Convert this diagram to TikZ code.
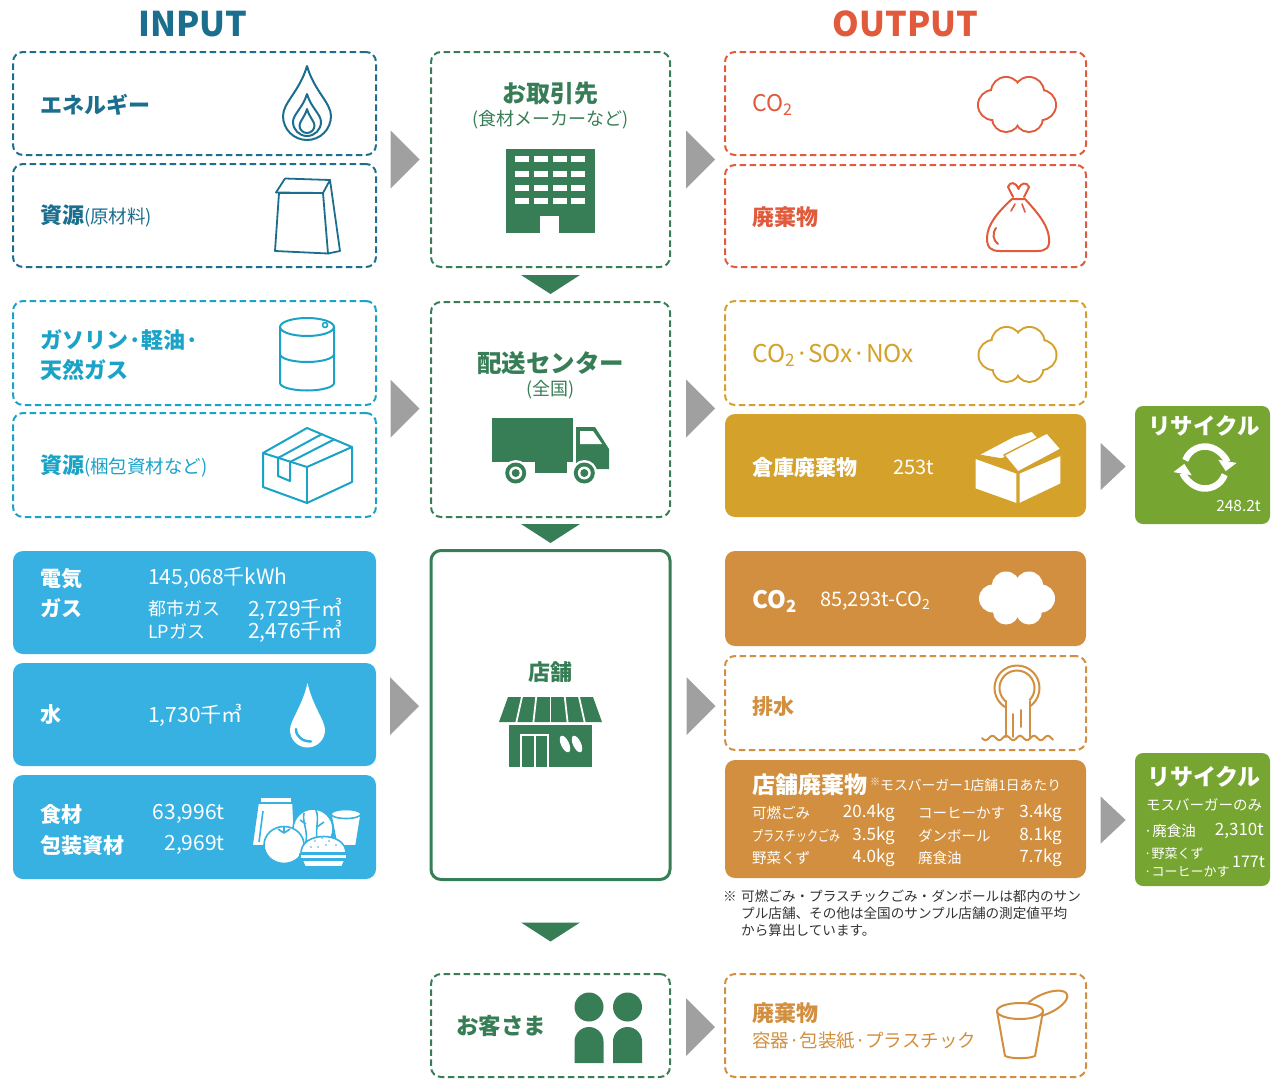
\documentclass[tikz,border=0pt]{standalone}
\usepackage{fontspec}
\setmainfont{Noto Sans CJK JP}
\usetikzlibrary{calc,arrows.meta}

\definecolor{cTealD}{HTML}{1C6E8E}
\definecolor{cTealL}{HTML}{1AA3C7}
\definecolor{cSky}{HTML}{36B1E1}
\definecolor{cGreen}{HTML}{377E56}
\definecolor{cRed}{HTML}{E15A3B}
\definecolor{cGold}{HTML}{D4A12B}
\definecolor{cOrange}{HTML}{D18F3F}
\definecolor{cLeaf}{HTML}{76A532}
\definecolor{cGray}{HTML}{A0A0A0}
\definecolor{cNote}{HTML}{333333}

\newcommand\fsz[1]{\fontsize{#1}{#1}\selectfont}
\newcommand\fsl[2]{\fontsize{#1}{#2}\selectfont}

% teardrop: centre x, centre y of the round bottom, radius, tip y, path options
\newcommand\teardrop[5]{%
  \path[#5] (#1,#4) .. controls ({#1-0.3*#3},{#4+0.5*(#2-#4)}) and ({#1-#3},{#2-0.55*#3}) .. ({#1-#3},#2)
    arc[start angle=180, end angle=0, radius=#3]
    .. controls ({#1+#3},{#2-0.55*#3}) and ({#1+0.3*#3},{#4+0.5*(#2-#4)}) .. (#1,#4) -- cycle;}

% cloud made of overlapping circles
\newcommand\cloudshape[3]{%
  \foreach \dx/\dy/\rr in {-24/0/14,24/0/14,-11/-13/14,12/-13/14,-11/13/13,12/13/13,0/0/18}{%
    \path[#3] ({#1+\dx},{#2+\dy}) circle[radius=\rr];}}

% grey arrow pointing right: centre, half height, half width
\newcommand\rtri[3]{\fill[cGray] (#1) ++({-#3},{-#2}) -- ++({2*#3},{#2}) -- ++({-2*#3},{#2}) -- cycle;}
% green arrow pointing down
\newcommand\dtri[1]{\fill[cGreen] (#1) ++(-29.5,-9.5) -- ++(59,0) -- ++(-29.5,19) -- cycle;}

\tikzset{
  dbox/.style={rectangle, draw=#1, line width=2pt, dash pattern=on 6.5pt off 3.5pt, rounded corners=10pt, inner sep=0pt},
  sbox/.style={rectangle, fill=#1, rounded corners=10pt, inner sep=0pt},
  wide/.style={minimum width=363pt},
  mid/.style={minimum width=239pt},
  outw/.style={minimum width=361pt},
  lbl/.style={anchor=west, inner sep=0pt},
  lble/.style={anchor=east, inner sep=0pt},
  ctr/.style={inner sep=0pt},
  icon/.style={line width=#1, line join=round, line cap=round},
}

\begin{document}
\begin{tikzpicture}[x=1pt,y=-1pt]
\useasboundingbox (0,0) rectangle (1271,1079);

% ---------- headings ----------
\node[ctr, text=cTealD, font=\fsz{34}\bfseries] (inTitle) at (193,24) {INPUT};
\node[ctr, text=cRed, font=\fsz{34}\bfseries] (outTitle) at (905.5,24) {OUTPUT};

% ---------- input column ----------
\node[dbox=cTealD, wide, minimum height=103pt] (energy) at (194.5,103.5) {};
\node[dbox=cTealD, wide, minimum height=103pt] (rawmat) at (194.5,215.5) {};
\node[dbox=cTealL, wide, minimum height=104pt] (fuel) at (194.5,353) {};
\node[dbox=cTealL, wide, minimum height=104pt] (packmat) at (194.5,465) {};
\node[sbox=cSky, wide, minimum height=103pt] (power) at (194.5,602.5) {};
\node[sbox=cSky, wide, minimum height=103pt] (water) at (194.5,714.5) {};
\node[sbox=cSky, wide, minimum height=104pt] (food) at (194.5,827) {};

% ---------- process column ----------
\node[dbox=cGreen, mid, minimum height=215pt] (partner) at (550.5,159.5) {};
\node[dbox=cGreen, mid, minimum height=215pt] (dist) at (550.5,409.5) {};
\node[rectangle, draw=cGreen, line width=3pt, rounded corners=10pt, mid, minimum height=329pt, inner sep=0pt] (store) at (550.5,715) {};
\node[dbox=cGreen, mid, minimum height=103pt] (cust) at (550.5,1025.5) {};

% ---------- output column ----------
\node[dbox=cRed, outw, minimum height=103pt] (co2a) at (905.5,103.5) {};
\node[dbox=cRed, outw, minimum height=102pt] (wastea) at (905.5,216) {};
\node[dbox=cGold, outw, minimum height=104pt] (gasb) at (905.5,353) {};
\node[sbox=cGold, outw, minimum height=103pt] (whwaste) at (905.5,465.5) {};
\node[sbox=cOrange, outw, minimum height=95pt] (co2c) at (905.5,598.5) {};
\node[dbox=cOrange, outw, minimum height=94pt] (drain) at (905.5,703) {};
\node[sbox=cOrange, outw, minimum height=118pt] (stwaste) at (905.5,819) {};
\node[dbox=cOrange, outw, minimum height=103pt] (cwaste) at (905.5,1025.5) {};

% ---------- recycling ----------
\node[sbox=cLeaf, rounded corners=8pt, minimum width=135pt, minimum height=118pt] (rec1) at (1202.5,465) {};
\node[sbox=cLeaf, rounded corners=8pt, minimum width=135pt, minimum height=133pt] (rec2) at (1202.5,819.5) {};

% ---------- flow arrows ----------
\coordinate (g1) at ($(partner.west)+(-25,0)$);
\coordinate (g2) at ($(dist.west)+(-25,-1)$);
\coordinate (g3) at ($(store.west)+(-25,-9)$);
\coordinate (h1) at ($(partner.east)+(29.5,0)$);
\coordinate (h2) at ($(dist.east)+(29.5,-1)$);
\coordinate (h3) at ($(store.east)+(29.5,-9)$);
\coordinate (h4) at ($(cust.east)+(29.5,1.5)$);
\coordinate (r1) at ($(whwaste.east)+(27,1)$);
\coordinate (r2) at ($(stwaste.east)+(27,1)$);
\rtri{g1}{29}{14.5} \rtri{g2}{29}{14.5} \rtri{g3}{29}{14.5}
\rtri{h1}{29}{14.5} \rtri{h2}{29}{14.5} \rtri{h3}{29}{14.5} \rtri{h4}{29}{14.5}
\rtri{r1}{23.5}{12.5} \rtri{r2}{23.5}{12.5}
\coordinate (d1) at ($(partner.south)!0.5!(dist.north)$);
\coordinate (d2) at ($(dist.south)!0.5!(store.north)$);
\coordinate (d3) at ($(store.south)!0.5!(cust.north)+(0,5)$);
\dtri{d1} \dtri{d2} \dtri{d3}

% ---------- input texts ----------
\node[lbl, text=cTealD, font=\fsz{22}\bfseries] (tEnergy) at (40,105) {エネルギー};
\node[lbl, text=cTealD] (tRaw) at (40,216) {{\fsz{22}\bfseries 資源}{\fsz{18.5}(原材料)}};
\node[lbl, text=cTealL, font=\fsl{22}{30}\bfseries, align=left] (tFuel) at (40,355) {ガソリン·軽油·\\天然ガス};
\node[lbl, text=cTealL] (tPack) at (40,466) {{\fsz{22}\bfseries 資源}{\fsz{18.5}(梱包資材など)}};

\node[lbl, text=white, font=\fsl{21}{30}\bfseries, align=left] (tPow) at (40,593) {電気\\ガス};
\node[lbl, text=white, font=\fsz{21}] (vPow) at (148,578) {145,068千kWh};
\node[lbl, text=white, font=\fsz{18}] (tCity) at (148,609) {都市ガス};
\node[lbl, text=white, font=\fsz{21}] (vCity) at (248,609) {2,729千㎥};
\node[lbl, text=white, font=\fsz{18}] (tLP) at (148,631) {LPガス};
\node[lbl, text=white, font=\fsz{21}] (vLP) at (248,631) {2,476千㎥};
\node[lbl, text=white, font=\fsz{21}\bfseries] (tWater) at (40,715) {水};
\node[lbl, text=white, font=\fsz{21}] (vWater) at (148,715) {1,730千㎥};
\node[lbl, text=white, font=\fsz{21}\bfseries] (tFood) at (40,814) {食材};
\node[lble, text=white, font=\fsz{21}] (vFood) at (225,814) {63,996t};
\node[lbl, text=white, font=\fsz{21}\bfseries] (tPackM) at (40,845) {包装資材};
\node[lble, text=white, font=\fsz{21}] (vPackM) at (225,845) {2,969t};

% ---------- process texts ----------
\node[ctr, text=cGreen, font=\fsz{24}\bfseries] (tPartner) at (550.5,93) {お取引先};
\node[ctr, text=cGreen, font=\fsz{18}] (tPartner2) at (550.5,120) {(食材メーカーなど)};
\node[ctr, text=cGreen, font=\fsz{24.5}\bfseries] (tDist) at (550.5,363) {配送センター};
\node[ctr, text=cGreen, font=\fsz{18}] (tDist2) at (550.5,390) {(全国)};
\node[ctr, text=cGreen, font=\fsz{22}\bfseries] (tStore) at (550.5,672) {店舗};
\node[lbl, text=cGreen, font=\fsz{22.5}\bfseries] (tCust) at (456,1026) {お客さま};

% ---------- output texts ----------
\node[lbl, text=cRed, font=\fsz{23}] (tCO2a) at (752,105) {CO\textsubscript{2}};
\node[lbl, text=cRed, font=\fsz{22}\bfseries] (tWasteA) at (752,217) {廃棄物};
\node[lbl, text=cGold, font=\fsz{24.5}] (tGas) at (752,355) {CO\textsubscript{2}·SOx·NOx};
\node[lbl, text=white, font=\fsz{21}\bfseries] (tWh) at (752,467) {倉庫廃棄物};
\node[lbl, text=white, font=\fsz{20}] (vWh) at (893,467) {253t};
\node[lbl, text=white, font=\fsz{24}\bfseries] (tCO2c) at (752,601) {CO\textsubscript{2}};
\node[lbl, text=white, font=\fsz{20}] (vCO2c) at (820,601) {85,293t-CO\textsubscript{2}};
\node[lbl, text=cOrange, font=\fsz{21}\bfseries] (tDrain) at (752,707) {排水};
\node[lbl, text=white, font=\fsz{23}\bfseries] (tSt) at (752,785) {店舗廃棄物};
\node[lbl, text=white, font=\fsz{13.8}] (tSt2) at (870,785) {\raisebox{0.35em}{\fsz{10}※}モスバーガー1店舗1日あたり};

\node[lbl, text=white, font=\fsz{14.5}] (a1) at (752,813) {可燃ごみ};
\node[lble, text=white, font=\fsz{17}] (a1v) at (895,813) {20.4kg};
\node[lbl, text=white, font=\fsz{14.5}] (a2) at (752,836) {\scalebox{0.76}[1]{プラスチックごみ}};
\node[lble, text=white, font=\fsz{17}] (a2v) at (895,836) {3.5kg};
\node[lbl, text=white, font=\fsz{14.5}] (a3) at (752,858) {野菜くず};
\node[lble, text=white, font=\fsz{17}] (a3v) at (895,858) {4.0kg};
\node[lbl, text=white, font=\fsz{14.5}] (b1) at (918,813) {コーヒーかす};
\node[lble, text=white, font=\fsz{17}] (b1v) at (1062,813) {3.4kg};
\node[lbl, text=white, font=\fsz{14.5}] (b2) at (918,836) {ダンボール};
\node[lble, text=white, font=\fsz{17}] (b2v) at (1062,836) {8.1kg};
\node[lbl, text=white, font=\fsz{14.5}] (b3) at (918,858) {廃食油};
\node[lble, text=white, font=\fsz{17}] (b3v) at (1062,858) {7.7kg};

\node[lbl, text=cNote, font=\fsz{13.6}] (nMark) at (723,896) {※};
\node[lbl, text=cNote, font=\fsz{13.6}] (n1) at (741,896) {可燃ごみ・プラスチックごみ・ダンボールは都内のサン};
\node[lbl, text=cNote, font=\fsz{13.6}] (n2) at (741,913) {プル店舗、その他は全国のサンプル店舗の測定値平均};
\node[lbl, text=cNote, font=\fsz{13.6}] (n3) at (741,930) {から算出しています。};

\node[lbl, text=cOrange, font=\fsz{22}\bfseries] (tCw) at (752,1013) {廃棄物};
\node[lbl, text=cOrange, font=\fsz{18.5}] (tCw2) at (752,1041) {容器·包装紙·プラスチック};

% ---------- recycling texts ----------
\node[ctr, text=white, font=\fsz{22.5}\bfseries] (tRec1) at (1204,426) {リサイクル};
\node[lble, text=white, font=\fsz{15.5}] (vRec1) at (1261,506) {248.2t};
\node[ctr, text=white, font=\fsz{23}\bfseries] (tRec2) at (1204,777) {リサイクル};
\node[lbl, text=white, font=\fsz{14.5}] (tRec2a) at (1146,805) {モスバーガーのみ};
\node[lbl, text=white, font=\fsz{14.5}] (tRec2b) at (1144,831) {·廃食油};
\node[lble, text=white, font=\fsz{17}] (vRec2b) at (1264,831) {2,310t};
\node[lbl, text=white, font=\fsz{13}] (tRec2c) at (1144,854) {·野菜くず};
\node[lbl, text=white, font=\fsz{13}] (tRec2d) at (1144,872) {·コーヒーかす};
\node[lble, text=white, font=\fsz{16}] (vRec2c) at (1265,862) {177t};

% ================= icons =================
% flame
\teardrop{307}{116}{24}{66}{draw=cTealD, icon=2pt}
\teardrop{307}{122}{14}{94}{draw=cTealD, icon=2pt}
\teardrop{307}{125.5}{7.5}{109}{draw=cTealD, icon=2pt}

% paper bag
\draw[cTealD, icon=1.8pt] (279,193) -- (275,251) -- (328,253.5) -- (323,193) -- cycle;
\draw[cTealD, icon=1.8pt] (323,193) -- (330,180) -- (340,251) -- (328,253.5);
\draw[cTealD, icon=1.8pt] (276,192.5) -- (285,178.5) -- (330,180);
\draw[cTealD, icon=1.8pt] (276,192.5) -- (323,193);

% drum
\draw[cTealL, icon=2pt] (280,327) -- (280,383) arc[start angle=180, end angle=0, x radius=27, y radius=7.5] -- (334,327);
\draw[cTealL, icon=2pt] (307,327) ellipse[x radius=27, y radius=9];
\draw[cTealL, icon=2pt] (280,354) arc[start angle=180, end angle=0, x radius=27, y radius=8];
\draw[cTealL, icon=1.6pt] (325,325) circle[radius=2.5];

% cardboard box
\draw[cTealL, icon=2pt] (263,453) -- (307,428) -- (352,447) -- (307,467) -- cycle;
\draw[cTealL, icon=2pt] (263,453) -- (263,487) -- (307,503) -- (352,482) -- (352,447);
\draw[cTealL, icon=2pt] (307,467) -- (307,503);
\draw[cTealL, icon=2pt] (278,458) -- (322,434);
\draw[cTealL, icon=2pt] (290,462) -- (334,439.5);
\draw[cTealL, icon=2pt] (278,458) -- (278,476) -- (290,481) -- (290,462);

% water drop
\teardrop{307.5}{730}{17.5}{683}{fill=white}
\draw[cSky, line width=2.5pt, line cap=round] (296,729) .. controls (296,737) and (303,741.5) .. (311,741.5);

% food and packaging
\begin{scope}[draw=cSky, fill=white, line width=1.6pt, line join=round]
  \filldraw (258,803) -- (293,803) -- (295,846) -- (252,846) -- cycle;
  \filldraw (260,797) rectangle (292,803);
  \draw (263,811) -- (259,842);
  \filldraw (331,815) -- (337,846) -- (356,846) -- (361,815) -- cycle;
  \filldraw (346,814) ellipse[x radius=15, y radius=4.5];
  \filldraw (313,829) circle[radius=20];
  \draw (304,813) .. controls (302,822) and (308,830) .. (306,842);
  \draw (316,810) .. controls (320,820) and (314,830) .. (318,845);
  \draw (306,824) -- (300,820); \draw (317,827) -- (324,822);
  \filldraw (284,845) ellipse[x radius=20, y radius=18.5];
  \draw (278,829) -- (284,833) -- (290,829); \draw (284,833) -- (284,827);
  \filldraw (301,853) .. controls (301,831) and (346,831) .. (346,853) -- cycle;
  \filldraw (300,854) rectangle (347,859);
  \filldraw (302,860) -- (345,860) -- (342,867) -- (305,867) -- cycle;
\end{scope}
\foreach \sx/\sy in {315/841,322/838,329/841,336/845,318/847,326/845,311/847}{\fill[cSky] (\sx,\sy) circle[radius=0.9];}

% office building
\fill[cGreen] (506,149) rectangle (595,233);
\foreach \wx in {515,534,553,571}{\foreach \wy in {156,170.5,184.5,198}{\fill[white] (\wx,\wy) rectangle ({\wx+14},{\wy+6});}}
\fill[white] (540,216) rectangle (559,233.5);

% delivery truck
\fill[cGreen] (492,418) rectangle (573,462);
\fill[cGreen] (576,427) -- (595,427) -- (609,449) -- (609,469) -- (576,469) -- cycle;
\fill[white] (580,431) -- (593,431) -- (602,444) -- (580,444) -- cycle;
\fill[cGreen] (535,462) rectangle (567,473);
\fill[white] (515.7,473) circle[radius=13];
\fill[white] (584.3,473) circle[radius=13];
\foreach \tx in {515.7,584.3}{%
  \fill[cGreen] (\tx,473) circle[radius=10.5];
  \fill[white] (\tx,473) circle[radius=6.5];
  \fill[cGreen] (\tx,473) circle[radius=4];}

% shop
\fill[cGreen] (508,697) -- (593,697) -- (602,722) -- (499,722) -- cycle;
\foreach \k in {1,...,5}{\draw[white, line width=1.8pt] ({508+\k*85/6},696) -- ({499+\k*103/6},723);}
\fill[cGreen] (509,725) rectangle (592,767);
\draw[white, line width=1.6pt] (521,767.5) -- (521,735) -- (548,735) -- (548,767.5);
\draw[white, line width=1.6pt] (535,735) -- (535,767.5);
\fill[white, rotate around={25:(565,744)}] (565,744) ellipse[x radius=4, y radius=9];
\fill[white, rotate around={25:(577,744)}] (577,744) ellipse[x radius=4, y radius=9];

% customers
\foreach \px in {589,627.5}{%
  \fill[cGreen] (\px,1007) circle[radius=14.5];
  \fill[cGreen] ({\px-14.5},1063) -- ({\px-14.5},1041.5) arc[start angle=180, end angle=360, radius=14.5] -- ({\px+14.5},1063) -- cycle;}

% clouds
\cloudshape{1017}{105}{draw=cRed, line width=4pt}
\cloudshape{1017}{105}{fill=white}
\cloudshape{1017.5}{355}{draw=cGold, line width=4pt}
\cloudshape{1017.5}{355}{fill=white}
\cloudshape{1017}{598.5}{fill=white}

% rubbish sack
\draw[cRed, icon=2pt] (1012,199) .. controls (1000,210) and (987,224) .. (987,238) .. controls (987,248) and (991,251) .. (1000,251) -- (1037,251) .. controls (1046,251) and (1050,248) .. (1049,238) .. controls (1048,224) and (1035,210) .. (1025,199) -- cycle;
\draw[cRed, icon=2pt] (1013,197) -- (1008,187) .. controls (1010,181) and (1016,182) .. (1018.5,189) .. controls (1021,182) and (1027,182) .. (1029,187) -- (1024,197);
\draw[cRed, icon=1.6pt] (1015,204) -- (1011,211);
\draw[cRed, icon=1.6pt] (1022,204) -- (1025,212);
\draw[cRed, icon=2pt] (996,228) .. controls (992,234) and (993,240) .. (998,244);

% cardboard box, open
\begin{scope}[fill=white, draw=cGold, line width=1.4pt, line join=round]
  \filldraw (978,455) -- (1014,436) -- (1032,431) -- (1040,440) -- (1002,459) -- cycle;
  \filldraw (1004,455) -- (1047,433) -- (1061,449) -- (1018,472) -- cycle;
  \filldraw (975,458) -- (1017,473) -- (1017,504) -- (975,489) -- cycle;
  \filldraw (1019,473) -- (1061,455) -- (1061,484) -- (1019,504) -- cycle;
\end{scope}

% recycle symbol
\draw[white, line width=6.5pt, -{Triangle[width=18pt,length=10pt]}] (1205,467.5) ++(-160:21) arc[start angle=-160, end angle=10, radius=21];
\draw[white, line width=6.5pt, -{Triangle[width=18pt,length=10pt]}] (1205,467.5) ++(20:21) arc[start angle=20, end angle=190, radius=21];

% drain pipe
\draw[cOrange, icon=2pt] (1017,688) circle[radius=22.5];
\draw[cOrange, icon=2pt] (1017,688) circle[radius=17.5];
\fill[white] (1006.5,700) rectangle (1029.5,737);
\draw[cOrange, icon=2pt] (1006,701) -- (1006,737);
\draw[cOrange, icon=2pt] (1030,701) -- (1030,737);
\draw[cOrange, icon=1.8pt] (1013,714) -- (1013,737);
\draw[cOrange, icon=1.8pt] (1021,710) -- (1021,727);
\draw[cOrange, icon=2pt] plot[domain=982:1053, samples=90, smooth] (\x,{738+2.2*sin((\x-982)*26)});

% cup with lid
\filldraw[cOrange, fill=white, icon=2pt, rotate around={24:(1045,1004)}] (1045,1004) ellipse[x radius=24, y radius=10];
\filldraw[cOrange, fill=white, icon=2pt] (997,1011) -- (1005,1056) .. controls (1012,1059) and (1028,1059) .. (1035,1056) -- (1043,1011);
\filldraw[cOrange, fill=white, icon=2pt] (1020,1011) ellipse[x radius=23, y radius=8];

\end{tikzpicture}
\end{document}
